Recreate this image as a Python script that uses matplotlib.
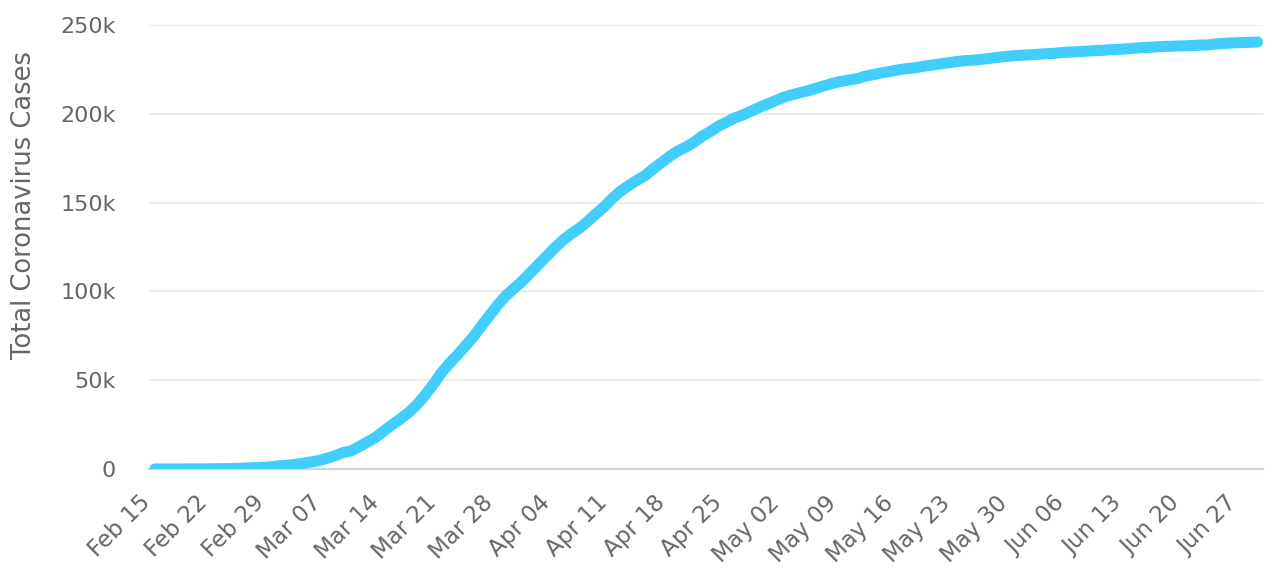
import numpy as np
import pandas as pd
from matplotlib import pyplot as plt

# daily totals, Feb 15 .. Jun 29
dates = pd.date_range("2020-02-15", "2020-06-29", freq="D")
feb = [3, 3, 3, 3, 3, 3, 20, 79, 157, 229, 323, 470, 655, 889, 1128]
mar = [1694, 2036, 2502, 3089, 3858, 4636, 5883, 7375, 9172, 10149,
       12462, 15113, 17660, 21157, 24747, 27980, 31506, 35713, 41035,
       47021, 53578, 59138, 63927, 69176, 74386, 80589, 86498, 92472,
       97689, 101739, 105792]
apr = [110574, 115242, 119827, 124632, 128948, 132547, 135586, 139422,
       143626, 147577, 152271, 156363, 159516, 162488, 165155, 168941,
       172434, 175925, 178972, 181228, 183957, 187327, 189973, 192994,
       195351, 197675, 199414, 201505, 203591, 205463]
may = [207428, 209328, 210717, 211938, 213013, 214457, 215858, 217185,
       218268, 219070, 219814, 221216, 222104, 223096, 223885, 224760,
       225435, 225886, 226699, 227364, 228006, 228658, 229327, 229858,
       230158, 230555, 231139, 231732, 232248, 232664, 233019]
jun = [233197, 233515, 233836, 234013, 234531, 234801, 234998, 235278,
       235561, 235763, 236142, 236305, 236651, 236989, 237290, 237500,
       237828, 238011, 238159, 238275, 238499, 238720, 238833, 239410,
       239706, 239961, 240136, 240310, 240436]
cases = feb + mar + apr + may + jun

tick_dates = pd.date_range("2020-02-15", "2020-06-27", freq="7D")
yticks = [0, 50000, 100000, 150000, 200000, 250000]
ylabels = ["0", "50k", "100k", "150k", "200k", "250k"]

grey = "#666666"
blue = "#42cefd"

fig = plt.figure(figsize=(12.84, 5.88), dpi=100)
ax = fig.add_axes([0.116, 0.2024, 0.8676, 0.755])

ax.plot(dates, cases, color=blue, lw=8, solid_capstyle="round",
        solid_joinstyle="round", zorder=3)

ax.set_ylim(0, 250000)
ax.set_xlim(dates[0] - pd.Timedelta(hours=17), dates[-1] + pd.Timedelta(hours=16))
ax.set_yticks(yticks)
ax.set_yticklabels(ylabels)
ax.set_xticks(tick_dates)
ax.set_xticklabels([d.strftime("%b %d") for d in tick_dates], rotation=45,
                   ha="right", va="top", fontsize=16.5)

ax.grid(axis="y", color="#e6e6e6", lw=1.1)
ax.set_axisbelow(True)
for s in ["top", "right", "left"]:
    ax.spines[s].set_visible(False)
ax.spines["bottom"].set_color("#ccd6eb")
ax.spines["bottom"].set_linewidth(1.6)
ax.spines["bottom"].set_zorder(2)

ax.tick_params(axis="both", length=0, colors=grey)
ax.tick_params(axis="y", pad=24, labelsize=16)
ax.tick_params(axis="x", pad=16)
ax.set_ylabel("Total Coronavirus Cases", color=grey, fontsize=18.5)
ax.yaxis.set_label_coords(-0.1005, 0.595)

plt.savefig("out.png", dpi=100)
